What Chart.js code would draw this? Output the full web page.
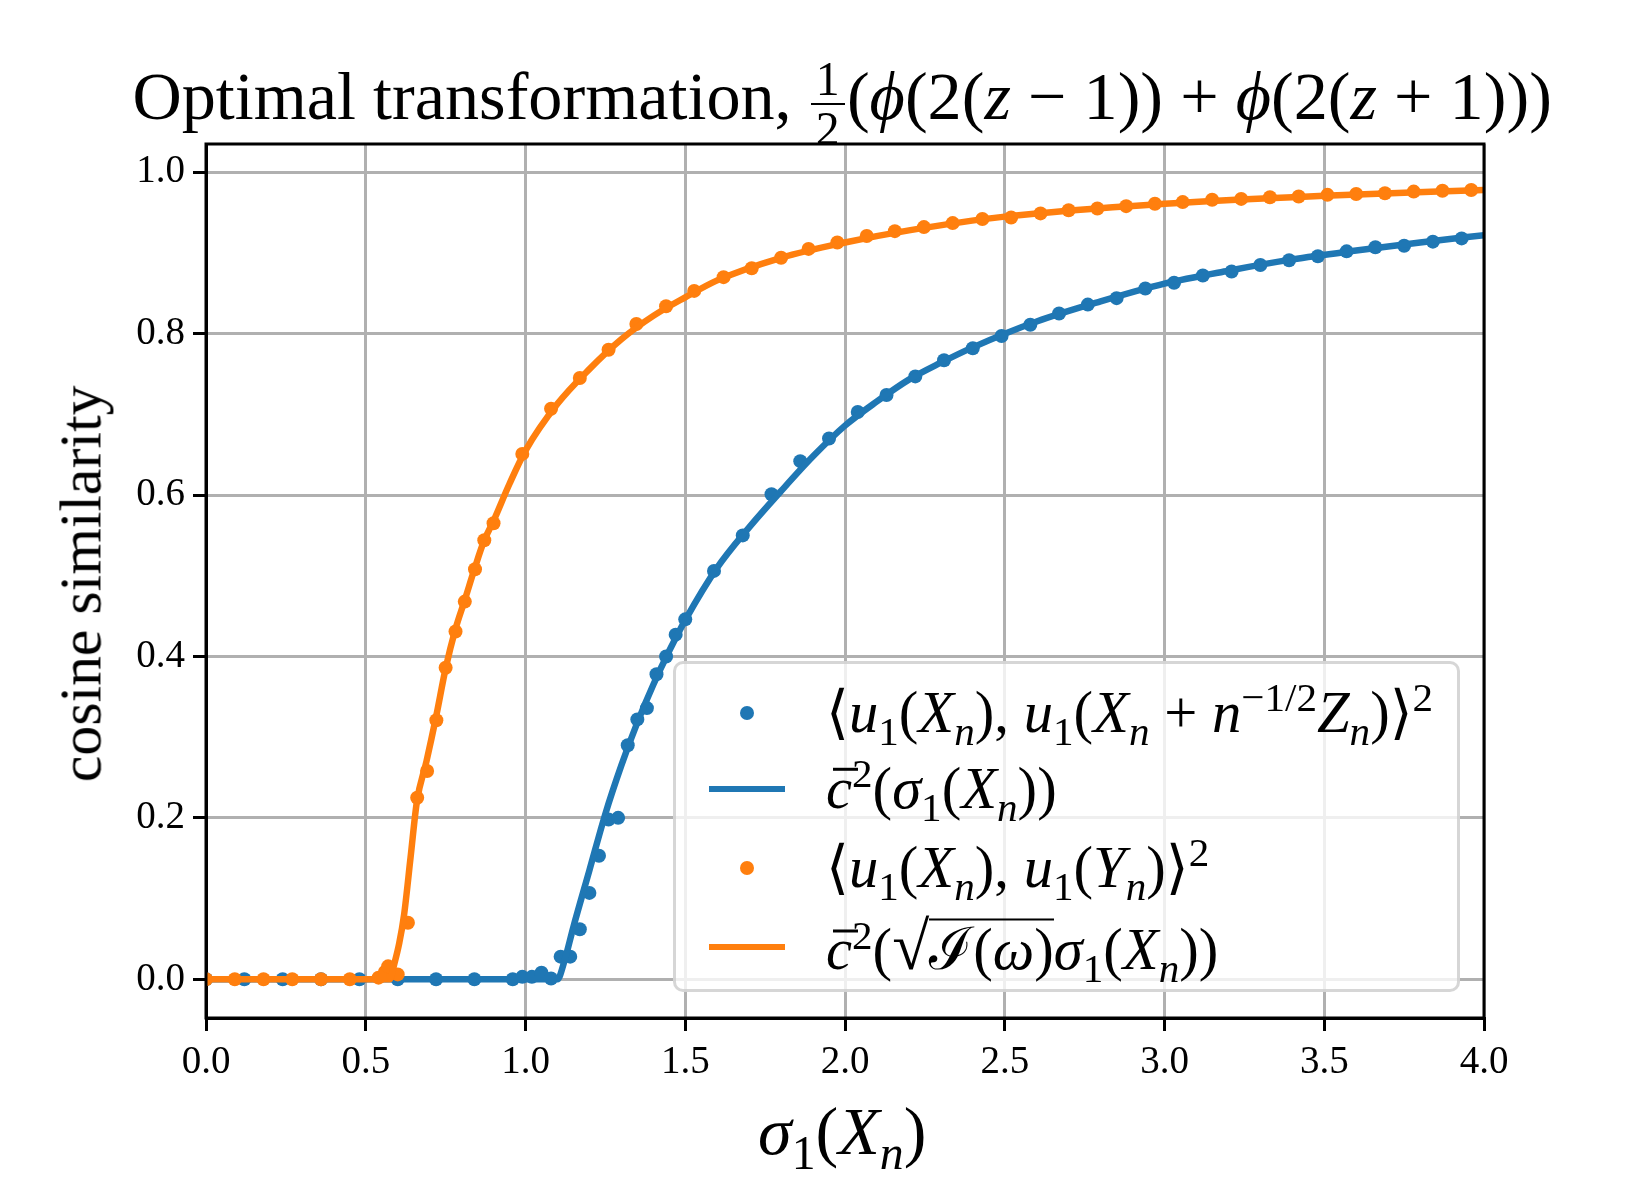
<!DOCTYPE html>
<html lang="en">
<head>
<meta charset="UTF-8">
<title>Optimal transformation</title>
<script src="https://cdn.jsdelivr.net/npm/chart.js"></script>
<style>
    body { margin: 0; background: #fff; font-family: 'Liberation Serif', 'DejaVu Serif', serif; }
    #wrap { position: relative; width: 1650px; height: 1200px; overflow: hidden; }
    #chart { position: absolute; left: 0; top: 0; }
    .txt { position: absolute; white-space: nowrap; color: #000; line-height: 1; }
    sub, sup { font-size: 0.7em; line-height: 0; }
    .frac { display: inline-block; vertical-align: middle; text-align: center; font-size: 0.7em; line-height: 1; margin: 0 0.05em; }
    .frac span { display: block; padding: 0 0.1em; }
    .frac .num { border-bottom: 0.06em solid #000; }
    .bar { position: relative; }
    .bar::after { content: ''; position: absolute; left: 0.12em; width: 0.42em; top: 0.2em; border-top: 0.055em solid #000; }
    .root { font-size: 1.15em; }
    .rad { position: relative; }
    .rad::before { content: ''; position: absolute; left: 0; right: 0; top: 0.02em; border-top: 0.05em solid #000; }
    #legend { position: absolute; left: 673px; top: 661px; width: 787px; height: 331px; box-sizing: border-box;
              border: 3px solid rgba(204,204,204,0.8); border-radius: 10px; background: rgba(255,255,255,0.8); }
    .row { position: absolute; left: 0; height: 0; }
    .dot { position: absolute; width: 14px; height: 14px; border-radius: 50%; left: 64px; top: -7px; }
    .seg { position: absolute; width: 76px; height: 6px; left: 33px; top: -3px; }
    .ltxt { position: absolute; left: 150px; transform: translateY(-50%); white-space: nowrap; line-height: 1.2; }
</style>
</head>
<body>
<div id="wrap">
    <canvas id="chart" width="1650" height="1200"></canvas>
    <div class="txt" id="title">Optimal transformation, <span class="frac"><span class="num">1</span><span>2</span></span>(<i>ϕ</i>(2(<i>z</i> − 1)) + <i>ϕ</i>(2(<i>z</i> + 1)))</div>
    <div class="txt" id="ylab">cosine similarity</div>
    <div class="txt" id="xlab"><i>σ</i><sub>1</sub>(<i>X</i><sub><i>n</i></sub>)</div>
    <div id="legend">
        <div class="row" style="top:49px"><div class="dot" style="background:#1f77b4"></div>
            <div class="ltxt" id="lt1">⟨<i>u</i><sub>1</sub>(<i>X</i><sub><i>n</i></sub>), <i>u</i><sub>1</sub>(<i>X</i><sub><i>n</i></sub> + <i>n</i><sup>−1/2</sup><i>Z</i><sub><i>n</i></sub>)⟩<sup>2</sup></div></div>
        <div class="row" style="top:125px"><div class="seg" style="background:#1f77b4"></div>
            <div class="ltxt"><i class="bar">c</i><sup>2</sup>(<i>σ</i><sub>1</sub>(<i>X</i><sub><i>n</i></sub>))</div></div>
        <div class="row" style="top:204px"><div class="dot" style="background:#ff7f0e"></div>
            <div class="ltxt">⟨<i>u</i><sub>1</sub>(<i>X</i><sub><i>n</i></sub>), <i>u</i><sub>1</sub>(<i>Y</i><sub><i>n</i></sub>)⟩<sup>2</sup></div></div>
        <div class="row" style="top:283px"><div class="seg" style="background:#ff7f0e"></div>
            <div class="ltxt"><i class="bar">c</i><sup>2</sup>(<span class="root">√</span><span class="rad">ℐ(<i>ω</i>)</span><i>σ</i><sub>1</sub>(<i>X</i><sub><i>n</i></sub>))</div></div>
    </div>
</div>
<script>
// empirical points
const blueX = [0, 0.12, 0.24, 0.36, 0.48, 0.6, 0.72, 0.84, 0.96, 0.99, 1.02, 1.05, 1.08, 1.11, 1.14, 1.17, 1.2, 1.23, 1.26, 1.29,
    1.32, 1.35, 1.38, 1.41, 1.44, 1.47, 1.5, 1.59, 1.68, 1.77, 1.86, 1.95, 2.04, 2.13, 2.22, 2.31, 2.4, 2.49, 2.58, 2.67,
    2.76, 2.85, 2.94, 3.03, 3.12, 3.21, 3.3, 3.39, 3.48, 3.57, 3.66, 3.75, 3.84, 3.93];
const blueY = [0, 0, 0, 0, 0, 0, 0, 0, 0, 0.003, 0.003, 0.008, 0.001, 0.028, 0.028, 0.062, 0.107, 0.153, 0.198, 0.2,
    0.29, 0.322, 0.336, 0.378, 0.4, 0.427, 0.446, 0.506, 0.55, 0.601, 0.642, 0.67, 0.703, 0.724, 0.747, 0.767, 0.782, 0.797, 0.811, 0.825,
    0.836, 0.844, 0.856, 0.863, 0.872, 0.877, 0.885, 0.891, 0.896, 0.902, 0.907, 0.909, 0.914, 0.918];
const orangeX = [0, 0.09, 0.18, 0.27, 0.36, 0.45, 0.54, 0.56, 0.57, 0.6, 0.632, 0.661, 0.692, 0.721, 0.75, 0.781, 0.81, 0.842, 0.871, 0.9,
    0.99, 1.08, 1.17, 1.26, 1.347, 1.44, 1.528, 1.62, 1.708, 1.8, 1.886, 1.976, 2.068, 2.156, 2.247, 2.337, 2.43, 2.52, 2.612, 2.7,
    2.79, 2.88, 2.97, 3.057, 3.149, 3.24, 3.33, 3.42, 3.51, 3.6, 3.69, 3.78, 3.87, 3.96];
const orangeY = [0, 0, 0, 0, 0, 0, 0.002, 0.009, 0.016, 0.006, 0.07, 0.225, 0.258, 0.321, 0.386, 0.431, 0.468, 0.508, 0.544, 0.565,
    0.651, 0.707, 0.745, 0.78, 0.812, 0.834, 0.853, 0.87, 0.881, 0.894, 0.905, 0.913, 0.921, 0.927, 0.932, 0.937, 0.942, 0.944, 0.949, 0.953,
    0.955, 0.958, 0.961, 0.963, 0.966, 0.967, 0.969, 0.97, 0.972, 0.973, 0.974, 0.976, 0.977, 0.978];

// theoretical curves
const blueLineX = [0, 1.1, 1.12, 1.15, 1.2, 1.25, 1.3, 1.35, 1.4, 1.45, 1.5, 1.6, 1.7, 1.8, 1.9, 2.0, 2.1, 2.2, 2.3, 2.4, 2.6, 2.8, 3.0, 3.2, 3.4, 3.6, 3.8, 4.0];
const blueLineY = [0, 0, 0.02, 0.065, 0.135, 0.205, 0.265, 0.318, 0.365, 0.407, 0.445, 0.51, 0.56, 0.605, 0.648, 0.686, 0.716, 0.743, 0.764, 0.783, 0.815, 0.84, 0.862, 0.878, 0.892, 0.903, 0.913, 0.922];
const orangeLineX = [0, 0.575, 0.59, 0.605, 0.62, 0.64, 0.66, 0.69, 0.72, 0.75, 0.78, 0.81, 0.84, 0.87, 0.9, 0.95, 1.0, 1.1, 1.2, 1.3, 1.4, 1.5, 1.6, 1.8, 2.0, 2.2, 2.5, 3.0, 3.5, 4.0];
const orangeLineY = [0, 0, 0.02, 0.045, 0.08, 0.15, 0.22, 0.27, 0.325, 0.385, 0.433, 0.47, 0.508, 0.543, 0.568, 0.614, 0.655, 0.713, 0.756, 0.793, 0.822, 0.845, 0.866, 0.894, 0.913, 0.928, 0.945, 0.961, 0.971, 0.978];

const xTicks = [0, 0.5, 1, 1.5, 2, 2.5, 3, 3.5, 4];
const yTicks = [0, 0.2, 0.4, 0.6, 0.8, 1.0];

const BLUE = '#1f77b4', ORANGE = '#ff7f0e';
const pts = (xs, ys) => xs.map((x, i) => ({ x: x, y: ys[i] }));
const tickFont = { family: "'Liberation Serif', 'DejaVu Serif', serif", size: 39 };

const frame = {
    id: 'frame',
    afterDraw(c) {
        const a = c.chartArea, g = c.ctx;
        g.save();
        g.strokeStyle = '#000';
        g.lineWidth = 3;
        g.strokeRect(a.left, a.top, a.right - a.left, a.bottom - a.top);
        g.restore();
    }
};

function axis(min, max, ticks) {
    return {
        type: 'linear', min: min, max: max,
        afterBuildTicks: s => { s.ticks = ticks.map(v => ({ value: v })); },
        ticks: { font: tickFont, color: '#000', padding: 8, callback: v => v.toFixed(1) },
        grid: { color: '#b0b0b0', lineWidth: 3, tickLength: 13, tickColor: '#000', tickWidth: 3 },
        border: { color: '#000', width: 3 }
    };
}

const xAxis = axis(0, 4, xTicks);
xAxis.afterFit = s => { s.height = 182; };
const yAxis = axis(-0.048, 1.035, yTicks);
yAxis.afterFit = s => { s.width = 206; };

new Chart(document.getElementById('chart').getContext('2d'), {
    type: 'scatter',
    data: {
        datasets: [
            { data: pts(blueX, blueY), showLine: false, pointRadius: 7, pointBackgroundColor: BLUE, pointBorderWidth: 0, order: 4 },
            { data: pts(blueLineX, blueLineY), showLine: true, pointRadius: 0, borderColor: BLUE, borderWidth: 6.5, cubicInterpolationMode: 'monotone', order: 3 },
            { data: pts(orangeX, orangeY), showLine: false, pointRadius: 7, pointBackgroundColor: ORANGE, pointBorderWidth: 0, order: 2 },
            { data: pts(orangeLineX, orangeLineY), showLine: true, pointRadius: 0, borderColor: ORANGE, borderWidth: 6.5, cubicInterpolationMode: 'monotone', order: 1 }
        ]
    },
    options: {
        responsive: false,
        animation: false,
        devicePixelRatio: 1,
        layout: { padding: { left: 0, top: 144, right: 166, bottom: 0 } },
        plugins: { legend: { display: false }, tooltip: { enabled: false } },
        scales: { x: xAxis, y: yAxis }
    },
    plugins: [frame]
});

// size text to the widths in the reference
function fit(el, w) {
    const fs = parseFloat(getComputedStyle(el).fontSize);
    el.style.fontSize = (fs * w / el.offsetWidth) + 'px';
}
function place(el, cx, cy, rot) {
    el.style.left = (cx - el.offsetWidth / 2) + 'px';
    el.style.top = (cy - el.offsetHeight / 2) + 'px';
    if (rot) el.style.transform = 'rotate(-90deg)';
}
const title = document.getElementById('title');
const ylab = document.getElementById('ylab');
const xlab = document.getElementById('xlab');
title.style.fontSize = '60px'; fit(title, 1420); place(title, 842, 104);
ylab.style.fontSize = '56px'; fit(ylab, 397); place(ylab, 81, 584, true);
xlab.style.fontSize = '56px'; fit(xlab, 168); place(xlab, 842, 1131);

const lt1 = document.getElementById('lt1');
lt1.style.fontSize = '50px';
const lfs = 50 * 607 / lt1.offsetWidth;
document.querySelectorAll('.ltxt').forEach(e => { e.style.fontSize = lfs + 'px'; });
</script>
</body>
</html>
